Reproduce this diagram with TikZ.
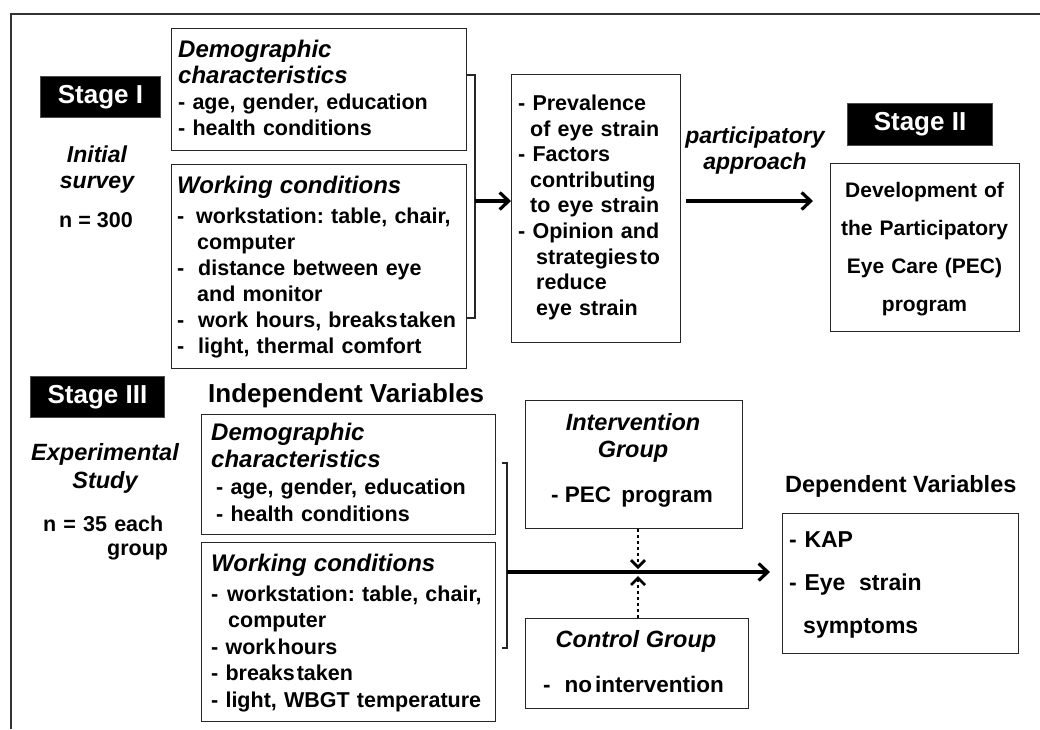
\documentclass[tikz,border=0pt]{standalone}
\usepackage{fontspec}
\setmainfont{Liberation Sans}
\usetikzlibrary{arrows.meta,calc}
\frenchspacing

% list helpers
\newcommand{\dsh}[1]{\makebox[#1][l]{-}}
\newcommand{\hangln}[1]{\hspace*{#1}}
\newcommand{\ttl}[1]{{\fontsize{24pt}{26pt}\selectfont\itshape #1}}

\tikzset{
  box/.style={draw=black!85, line width=1.4pt, anchor=north west, inner sep=0pt},
  stagebox/.style={fill=black, draw=black!70, line width=1pt, anchor=north west,
    inner sep=0pt, text=white, font=\fontsize{26pt}{30pt}\selectfont\bfseries},
  txt/.style={anchor=base west, inner sep=0pt, align=left},
  ctr/.style={anchor=base, inner sep=0pt, align=center},
  body/.style={font=\fontsize{21.5pt}{26pt}\selectfont\bfseries},
  bracket/.style={draw=black!85, line width=1.4pt},
  flow/.style={line width=3.2pt, -{Straight Barb[length=9pt,width=17pt]}},
  dotflow/.style={line width=2.8pt, dash pattern=on 3pt off 3pt,
    -{Straight Barb[length=7pt,width=14pt]}},
}

\begin{document}
\begin{tikzpicture}[x=1pt,y=-1pt]
\useasboundingbox (0,0) rectangle (1040,729);

% outer frame (top and left edges)
\coordinate (frameTL) at (11,14);
\coordinate (frameBL) at (11,729);
\coordinate (frameTR) at (1040,14);
\draw[line width=2pt, black!80] (frameBL) -- (frameTL) -- (frameTR);

% ---------- Stage I ----------
\node[stagebox, minimum width=120pt, minimum height=41pt] (s1) at (40,76) {Stage I};
\node[ctr, font=\fontsize{23pt}{26pt}\selectfont\bfseries\itshape, text width=130pt]
  (is) at (97,162) {Initial\\survey};
\node[ctr, body] (n1) at (96,227) {n = 300};

\node[box, minimum width=295pt, minimum height=122pt] (d1) at (171,28) {};
\node[txt, body, text width=285pt] (d1t) at (178,57)
  {\ttl{Demographic}\\\ttl{characteristics}\\- age, gender, education\\- health conditions};

\node[box, minimum width=295pt, minimum height=204pt] (w1) at (171,164) {};
\node[txt, body, text width=290pt] (w1t) at (177,193)
  {\ttl{Working conditions}\\[4pt]
   \dsh{19pt}workstation: table, chair,\\
   \hangln{20pt}computer\\
   \dsh{21pt}distance between eye\\
   \hangln{20pt}and monitor\\
   \dsh{21pt}work hours, breaks\hspace{2pt}taken\\
   \dsh{21pt}light, thermal comfort};

% bracket gathering the two stage I boxes
\coordinate (b1top) at (475,75);
\coordinate (b1bot) at (475,318);
\coordinate (b1mid) at (475,201);
\draw[bracket] (b1top -| d1.east) -- (b1top) -- (b1bot) -- (b1bot -| w1.east);

\node[box, minimum width=169pt, minimum height=268pt] (pv) at (511,74) {};
\node[txt, font=\fontsize{21.5pt}{25.6pt}\selectfont\bfseries, text width=165pt]
  (pvt) at (518,110.5)
  {- Prevalence\\\hangln{12pt}of eye strain\\- Factors\\\hangln{12pt}contributing\\
   \hangln{12pt}to eye strain\\- Opinion and\\\hangln{18pt}strategies\hspace{2pt}to\\
   \hangln{18pt}reduce\\\hangln{18pt}eye strain};

\draw[flow] (b1mid) -- (b1mid -| pv.west);

% ---------- Stage II ----------
\node[ctr, font=\fontsize{23pt}{26pt}\selectfont\bfseries\itshape, text width=170pt]
  (pa) at (755,143) {participatory\\approach};
\node[stagebox, minimum width=145pt, minimum height=42pt] (s2) at (847,103) {Stage II};
\node[box, minimum width=189pt, minimum height=168pt] (dev) at (830,163) {};
\node[ctr, font=\fontsize{21pt}{38.3pt}\selectfont\bfseries, text width=189pt]
  (devt) at (924.5,197) {Development of\\the Participatory\\Eye Care (PEC)\\program};

\coordinate (paend) at ($(b1mid -| dev.west)+(-17,0)$);
\draw[flow] ($(b1mid -| pv.east)+(5,0)$) -- (paend);

% ---------- Stage III ----------
\node[stagebox, minimum width=134pt, minimum height=41pt] (s3) at (30,376) {Stage III};
\node[ctr, font=\fontsize{23.5pt}{28pt}\selectfont\bfseries\itshape, text width=160pt]
  (es) at (105,460) {Experimental\\Study};
\node[txt, font=\fontsize{21.5pt}{24pt}\selectfont\bfseries, text width=150pt]
  (n2) at (43,531) {n = 35 each\\\hangln{64pt}group};

\node[txt, font=\fontsize{26pt}{30pt}\selectfont\bfseries] (iv) at (208,402) {Independent Variables};

\node[box, minimum width=294pt, minimum height=120pt] (d2) at (201,414) {};
\node[txt, font=\fontsize{21.5pt}{27pt}\selectfont\bfseries, text width=285pt]
  (d2t) at (211,440.5)
  {\ttl{Demographic}\\\ttl{characteristics}\\\hangln{5pt}- age, gender, education\\
   \hangln{5pt}- health conditions};

\node[box, minimum width=294pt, minimum height=179pt] (w2) at (201,542) {};
\node[txt, font=\fontsize{21.5pt}{26.5pt}\selectfont\bfseries, text width=288pt]
  (w2t) at (211,571)
  {\ttl{Working conditions}\\[3.5pt]
   \dsh{16pt}workstation: table, chair,\\
   \hangln{17pt}computer\\
   - work\hspace{2pt}hours\\
   - breaks\hspace{2pt}taken\\
   - light, WBGT temperature};

% bracket gathering the two stage III boxes
\coordinate (b2top) at (507,463);
\coordinate (b2bot) at (507,648);
\coordinate (b2mid) at (507,572);
\draw[bracket] ($(b2top)+(-5,0)$) -- (b2top) -- (b2bot) -- ($(b2bot)+(-5,0)$);

\node[box, minimum width=217pt, minimum height=128pt] (ig) at (525,400) {};
\node[ctr, font=\fontsize{23.5pt}{27pt}\selectfont\bfseries\itshape, text width=210pt]
  (igt) at (633,430) {Intervention\\Group};
\node[ctr, font=\fontsize{22.5pt}{26pt}\selectfont\bfseries] (igp) at (632,502) {- PEC\hspace{4pt} program};

\node[box, minimum width=223pt, minimum height=90pt] (cg) at (525,618) {};
\node[ctr, font=\fontsize{23.5pt}{27pt}\selectfont\bfseries\itshape] (cgt) at (636,647) {Control Group};
\node[txt, font=\fontsize{22.5pt}{26pt}\selectfont\bfseries] (cgn) at (543,692) {-\hspace{14pt}no\hspace{3pt}intervention};

\node[txt, font=\fontsize{23.5pt}{27pt}\selectfont\bfseries] (dv) at (785,492) {Dependent Variables};
\node[box, minimum width=236pt, minimum height=140pt] (dep) at (782,513) {};
\node[txt, font=\fontsize{23pt}{43pt}\selectfont\bfseries, text width=225pt]
  (dept) at (789,547) {- KAP\\- Eye\hspace{6pt} strain\\\hangln{14pt}symptoms};

% main flow into the dependent variables
\coordinate (depend) at ($(b2mid -| dep.west)+(-12,0)$);
\draw[flow] (b2mid) -- (depend);

% group effects joining the main flow
\coordinate (ia) at (638,569);
\coordinate (ca) at (638,576);
\draw[dotflow] (ig.south -| ia) -- (ia);
\draw[dotflow] (cg.north -| ca) -- (ca);

\end{tikzpicture}
\end{document}
